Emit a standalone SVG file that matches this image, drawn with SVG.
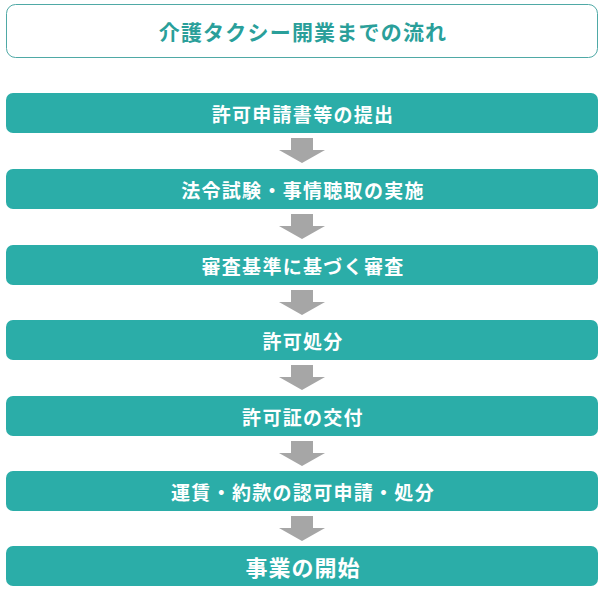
<svg xmlns="http://www.w3.org/2000/svg" width="605" height="594" viewBox="0 0 605 594">
<style>
.box{fill:#2BADA8;}
.t{font-family:"Noto Sans CJK JP","Noto Sans CJK SC",sans-serif;font-weight:bold;fill:#fff;text-anchor:middle;dominant-baseline:central;font-size:19px;letter-spacing:1.3px;}
.arr{fill:#A6A6A6;}
</style>
<rect width="605" height="594" fill="#fff"/>
<g id="title">
<rect x="6.5" y="4.5" width="591" height="53" rx="9" fill="#fff" stroke="#4FA9A6" stroke-width="1"/>
<text x="303" y="31" class="t" style="fill:#2A9F9A;font-size:21px;letter-spacing:1.2px">介護タクシー開業までの流れ</text>
</g>
<g id="n1"><rect class="box" x="6" y="93" width="592" height="40" rx="7"/><text class="t" x="303" y="113">許可申請書等の提出</text></g>
<g id="n2"><rect class="box" x="6" y="169" width="592" height="40" rx="7"/><text class="t" x="303" y="189">法令試験・事情聴取の実施</text></g>
<g id="n3"><rect class="box" x="6" y="245" width="592" height="40" rx="7"/><text class="t" x="303" y="265">審査基準に基づく審査</text></g>
<g id="n4"><rect class="box" x="6" y="320" width="592" height="40" rx="7"/><text class="t" x="303" y="340">許可処分</text></g>
<g id="n5"><rect class="box" x="6" y="396" width="592" height="40" rx="7"/><text class="t" x="303" y="416">許可証の交付</text></g>
<g id="n6"><rect class="box" x="6" y="471" width="592" height="40" rx="7"/><text class="t" x="303" y="491">運賃・約款の認可申請・処分</text></g>
<g id="n7"><rect class="box" x="6" y="546" width="592" height="40" rx="7"/><text class="t" x="303" y="566" style="font-size:22px;letter-spacing:1px">事業の開始</text></g>
<g id="connectors">
<path class="arr" d="M291 138h22v12h12l-23 13l-23-13h12z"/>
<path class="arr" d="M291 214h22v12h12l-23 13l-23-13h12z"/>
<path class="arr" d="M291 290h22v12h12l-23 13l-23-13h12z"/>
<path class="arr" d="M291 365h22v12h12l-23 13l-23-13h12z"/>
<path class="arr" d="M291 441h22v12h12l-23 13l-23-13h12z"/>
<path class="arr" d="M291 516h22v12h12l-23 13l-23-13h12z"/>
</g>
</svg>
